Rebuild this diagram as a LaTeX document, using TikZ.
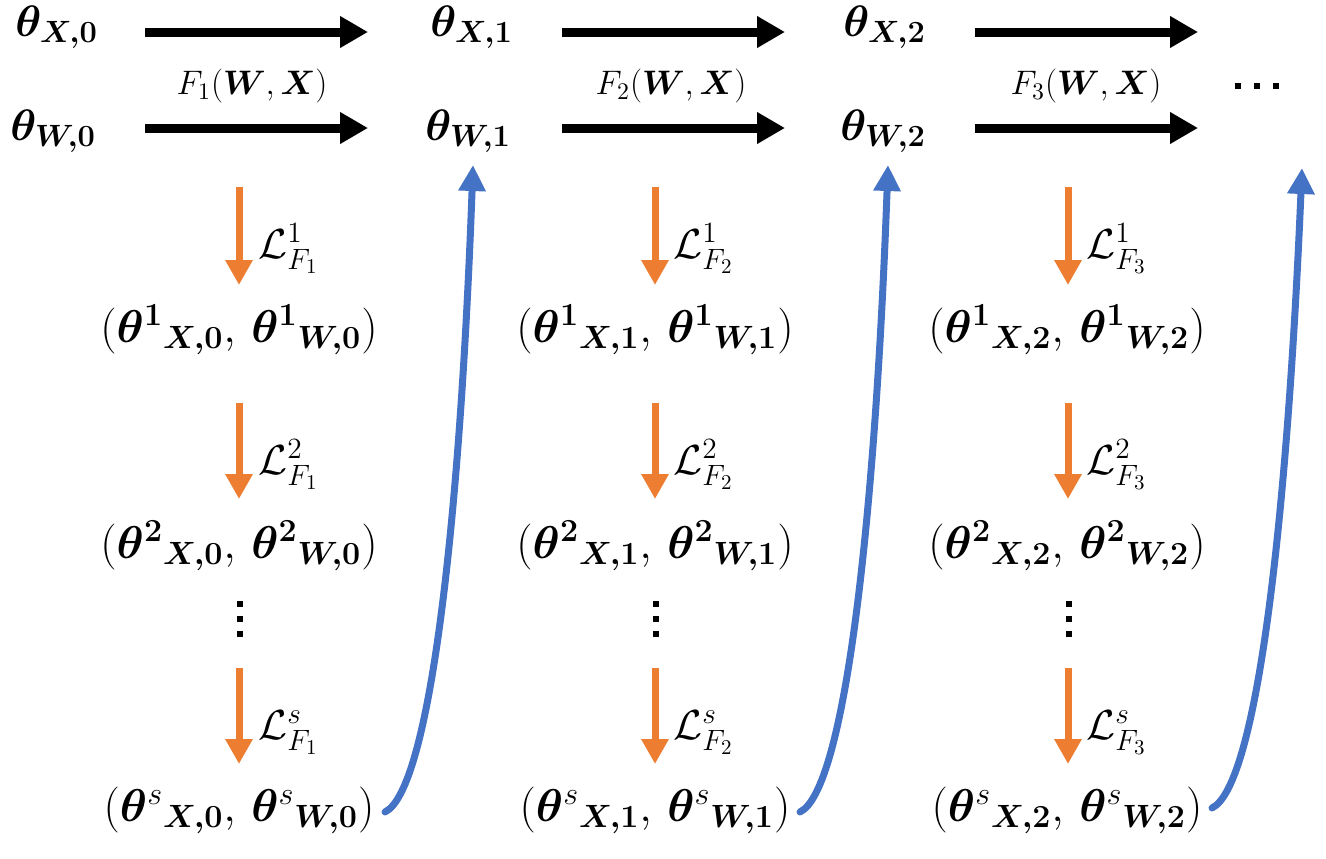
\RequirePackage{fix-cm}
\documentclass[tikz,border=0pt]{standalone}
\usepackage{amsmath}
\usepackage{bm}
\usetikzlibrary{arrows.meta}
\definecolor{orng}{HTML}{ED7D31}
\definecolor{blu}{HTML}{4472C4}
\tikzset{
  thnode/.style={inner sep=0pt, anchor=base west, font=\fontsize{22}{26}\selectfont},
  tupnode/.style={inner sep=0pt, anchor=base, font=\fontsize{23}{27}\selectfont},
  flabel/.style={inner sep=0pt, anchor=base, font=\fontsize{17}{20}\selectfont},
  llabel/.style={inner sep=0pt, anchor=base west, font=\fontsize{21}{25}\selectfont},
  blkarrow/.style={line width=4.5pt, -{Triangle[length=14pt,width=15pt]}},
  orgarrow/.style={orng, line width=3.5pt, -{Triangle[length=12.5pt,width=13pt]}},
  bluarrow/.style={blu, line width=3.5pt, line cap=round, -{Triangle[length=13pt,width=13pt]}},
  dotmark/.style={fill=black, inner sep=0pt, minimum size=3pt, rectangle}
}
\newcommand{\tup}[2]{$(\bm{\theta}^{#1}{}_{\bm{X,#2}},\,\bm{\theta}^{#1}{}_{\bm{W,#2}})$}
\begin{document}
\begin{tikzpicture}[x=0.5pt,y=-0.5pt]
\useasboundingbox (0,0) rectangle (1326,858);
\foreach \cc/\xxa/\xwa/\asx/\aex/\fxx/\oxx/\txx/\lxx/\bsx/\bsy/\bex/\bey/\fidx in
  {0/15/10/145/368/252/239/239/258/385/812/473/165/1,
   1/430/425/562/785/671/655/655/673/800/812/888/165/2,
   2/843/840/975/1198/1086/1068/1067/1086/1212/808/1302/168/3}{
  % top parameter nodes
  \node[thnode] (tx\cc) at (\xxa,36) {$\bm{\theta}_{\bm{X,\cc}}$};
  \node[thnode] (tw\cc) at (\xwa,140) {$\bm{\theta}_{\bm{W,\cc}}$};
  % forward arrows
  \coordinate (axs\cc) at (\asx,32);
  \coordinate (axe\cc) at (\aex,32);
  \coordinate (aws\cc) at (\asx,128);
  \coordinate (awe\cc) at (\aex,128);
  \draw[blkarrow] (axs\cc) -- (axe\cc);
  \draw[blkarrow] (aws\cc) -- (awe\cc);
  \node[flabel] (f\cc) at (\fxx,94) {$F_{\fidx}(\bm{W},\bm{X})$};
  % tuples
  \node[tupnode] (ta\cc) at (\txx,342) {\tup{\mathbf{1}}{\cc}};
  \node[tupnode] (tb\cc) at (\txx,558) {\tup{\mathbf{2}}{\cc}};
  \node[tupnode] (ts\cc) at (\txx,821) {\tup{s}{\cc}};
  % orange arrows
  \coordinate (o1s\cc) at (\oxx,187); \coordinate (o1e\cc) at (\oxx,285);
  \coordinate (o2s\cc) at (\oxx,403); \coordinate (o2e\cc) at (\oxx,499);
  \coordinate (o3s\cc) at (\oxx,668); \coordinate (o3e\cc) at (\oxx,764);
  \draw[orgarrow] (o1s\cc) -- (o1e\cc);
  \draw[orgarrow] (o2s\cc) -- (o2e\cc);
  \draw[orgarrow] (o3s\cc) -- (o3e\cc);
  \node[llabel] (l1\cc) at (\lxx,258) {$\mathcal{L}^{1}_{F_{\fidx}}$};
  \node[llabel] (l2\cc) at (\lxx,474) {$\mathcal{L}^{2}_{F_{\fidx}}$};
  \node[llabel] (l3\cc) at (\lxx,739) {$\mathcal{L}^{s}_{F_{\fidx}}$};
  % vertical dots
  \node[dotmark] (d1\cc) at (\oxx+1,604) {};
  \node[dotmark] (d2\cc) at (\oxx+1,619) {};
  \node[dotmark] (d3\cc) at (\oxx+1,634) {};
  % blue feedback arrows
  \coordinate (bs\cc) at (\bsx,\bsy);
  \coordinate (be\cc) at (\bex,\bey);
  \draw[bluarrow] (bs\cc) .. controls ([shift={(45,-22)}]bs\cc) and (\bsx+75,520) .. (be\cc);
}
% ellipsis at the right
\node[dotmark, minimum size=3.2pt] (e1) at (1238,86) {};
\node[dotmark, minimum size=3.2pt] (e2) at (1257,86) {};
\node[dotmark, minimum size=3.2pt] (e3) at (1276,86) {};
\end{tikzpicture}
\end{document}
